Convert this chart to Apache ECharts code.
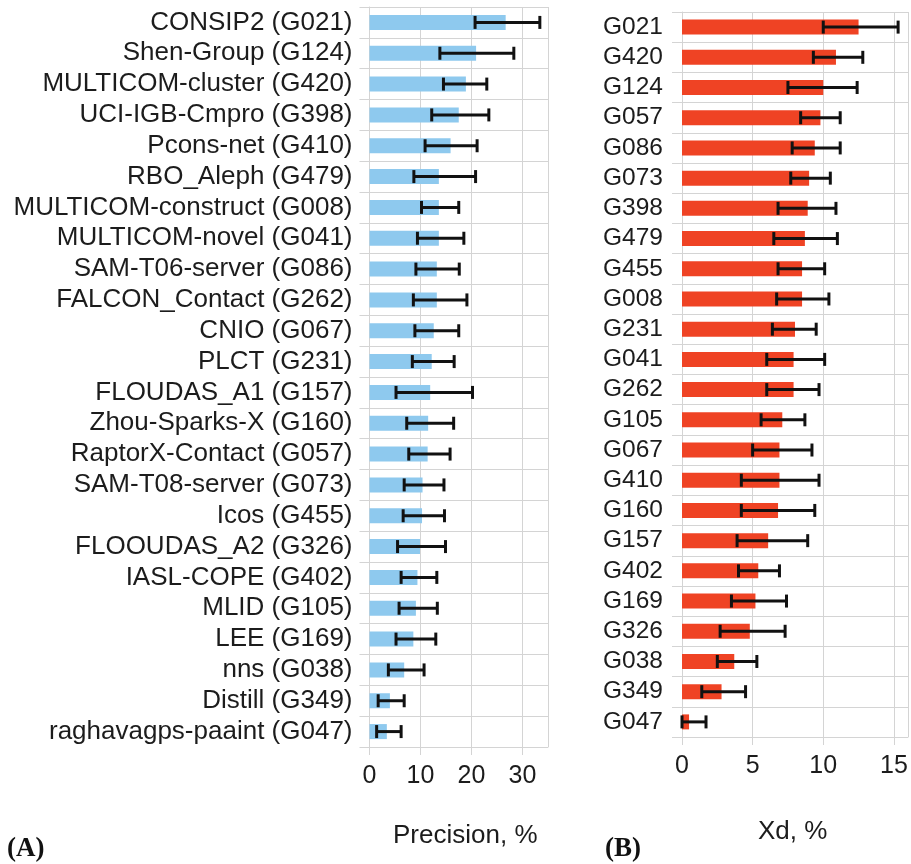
<!DOCTYPE html>
<html>
<head>
<meta charset="utf-8">
<script src="https://cdn.jsdelivr.net/npm/echarts@6/dist/echarts.min.js"></script>
<style>
html,body{margin:0;padding:0;background:#fff;}
#chart{width:911px;height:864px;}
</style>
</head>
<body>
<div id="chart"></div>
<script>
// ---- Panel A data (Precision, %) ----
const precisionCategories = [
  'CONSIP2 (G021)', 'Shen-Group (G124)', 'MULTICOM-cluster (G420)', 'UCI-IGB-Cmpro (G398)',
  'Pcons-net (G410)', 'RBO_Aleph (G479)', 'MULTICOM-construct (G008)', 'MULTICOM-novel (G041)',
  'SAM-T06-server (G086)', 'FALCON_Contact (G262)', 'CNIO (G067)', 'PLCT (G231)',
  'FLOUDAS_A1 (G157)', 'Zhou-Sparks-X (G160)', 'RaptorX-Contact (G057)', 'SAM-T08-server (G073)',
  'Icos (G455)', 'FLOOUDAS_A2 (G326)', 'IASL-COPE (G402)', 'MLID (G105)',
  'LEE (G169)', 'nns (G038)', 'Distill (G349)', 'raghavagps-paaint (G047)'
];
const precisionValues = [26.7, 20.9, 18.9, 17.5, 15.9, 13.6, 13.6, 13.6, 13.2, 13.2, 12.6, 12.2,
  11.9, 11.5, 11.4, 10.4, 10.3, 9.9, 9.4, 9.1, 8.6, 6.8, 4.0, 3.4];
const precisionLow = [20.7, 13.8, 14.5, 12.2, 10.9, 8.7, 10.2, 9.4, 9.1, 8.6, 8.9, 8.4,
  5.2, 7.3, 7.7, 6.8, 6.6, 5.5, 6.2, 5.8, 5.2, 3.7, 1.7, 1.4];
const precisionHigh = [33.4, 28.3, 23.0, 23.4, 21.1, 20.8, 17.5, 18.5, 17.6, 19.1, 17.5, 16.6,
  20.2, 16.5, 15.8, 14.6, 14.7, 14.9, 13.2, 13.3, 13.0, 10.7, 6.8, 6.2];

// ---- Panel B data (Xd, %) ----
const xdCategories = [
  'G021', 'G420', 'G124', 'G057', 'G086', 'G073', 'G398', 'G479', 'G455', 'G008', 'G231', 'G041',
  'G262', 'G105', 'G067', 'G410', 'G160', 'G157', 'G402', 'G169', 'G326', 'G038', 'G349', 'G047'
];
const xdValues = [12.5, 10.9, 10.0, 9.8, 9.4, 9.0, 8.9, 8.7, 8.5, 8.5, 8.0, 7.9,
  7.9, 7.1, 6.9, 6.9, 6.8, 6.1, 5.4, 5.2, 4.8, 3.7, 2.8, 0.5];
const xdLow = [10.0, 9.3, 7.5, 8.4, 7.8, 7.7, 6.8, 6.5, 6.8, 6.7, 6.4, 6.0,
  6.0, 5.6, 5.0, 4.2, 4.2, 3.9, 4.0, 3.5, 2.7, 2.5, 1.4, 0.0];
const xdHigh = [15.3, 12.8, 12.4, 11.2, 11.2, 10.5, 10.9, 11.0, 10.1, 10.4, 9.5, 10.1,
  9.7, 8.7, 9.2, 9.7, 9.4, 8.9, 6.9, 7.4, 7.3, 5.3, 4.5, 1.7];

// ---- Axis ticks ----
const precisionAxis = { min: 0, max: 35, interval: 10 };
const xdAxis = { min: 0, max: 16, interval: 5 };

const FONT = '"Liberation Sans", Arial, sans-serif';
const GRID_COLOR = '#d4d4d4';
const TEXT_COLOR = '#1c1c1c';

function errorData(low, high) {
  return low.map((lo, i) => [i, lo, high[i]]);
}

function errRenderItem(params, api) {
  const cat = api.value(0);
  const lo = api.value(1);
  const hi = api.value(2);
  const p1 = api.coord([lo, cat]);
  const p2 = api.coord([hi, cat]);
  const h = 6.5;
  const style = { stroke: '#111111', lineWidth: 3 };
  return {
    type: 'group',
    children: [
      { type: 'line', shape: { x1: p1[0], y1: p1[1], x2: p2[0], y2: p2[1] }, style: style },
      { type: 'line', shape: { x1: p1[0], y1: p1[1] - h, x2: p1[0], y2: p1[1] + h }, style: style },
      { type: 'line', shape: { x1: p2[0], y1: p2[1] - h, x2: p2[0], y2: p2[1] + h }, style: style }
    ]
  };
}

function valueAxis(gridIndex, cfg) {
  return {
    type: 'value', gridIndex: gridIndex,
    min: cfg.min, max: cfg.max, interval: cfg.interval,
    axisLine: { show: true, lineStyle: { color: GRID_COLOR, width: 1 } },
    axisTick: { show: true, length: 8, lineStyle: { color: GRID_COLOR } },
    splitLine: { show: true, lineStyle: { color: GRID_COLOR, width: 1 } },
    axisLabel: { showMaxLabel: false, fontFamily: FONT, fontSize: 25, color: TEXT_COLOR, margin: 17 }
  };
}

function categoryAxis(gridIndex, cats, fontSize, margin) {
  return {
    type: 'category', gridIndex: gridIndex, data: cats, inverse: true,
    axisLine: { show: true, lineStyle: { color: GRID_COLOR, width: 1 } },
    axisTick: { show: true, length: 10, alignWithLabel: false, lineStyle: { color: GRID_COLOR } },
    splitLine: { show: true, lineStyle: { color: GRID_COLOR, width: 1 } },
    axisLabel: { fontFamily: FONT, fontSize: fontSize, color: TEXT_COLOR, margin: margin, interval: 0 }
  };
}

const chart = echarts.init(document.getElementById('chart'), null, { renderer: 'canvas' });
chart.setOption({
  animation: false,
  backgroundColor: '#ffffff',
  grid: [
    { left: 369.5, top: 7, width: 178.5, height: 740, containLabel: false },
    { left: 682, top: 12, width: 226, height: 725, containLabel: false }
  ],
  xAxis: [valueAxis(0, precisionAxis), valueAxis(1, xdAxis)],
  yAxis: [categoryAxis(0, precisionCategories, 26, 17), categoryAxis(1, xdCategories, 24.5, 19)],
  series: [
    {
      type: 'bar', xAxisIndex: 0, yAxisIndex: 0, data: precisionValues,
      barWidth: 15, itemStyle: { color: '#8ec9ee' }, z: 2
    },
    {
      type: 'custom', xAxisIndex: 0, yAxisIndex: 0, renderItem: errRenderItem,
      data: errorData(precisionLow, precisionHigh), encode: { y: 0, x: [1, 2] }, z: 5
    },
    {
      type: 'bar', xAxisIndex: 1, yAxisIndex: 1, data: xdValues,
      barWidth: 15, itemStyle: { color: '#ef4324' }, z: 2
    },
    {
      type: 'custom', xAxisIndex: 1, yAxisIndex: 1, renderItem: errRenderItem,
      data: errorData(xdLow, xdHigh), encode: { y: 0, x: [1, 2] }, z: 5
    }
  ],
  graphic: [
    { type: 'text', left: 393, top: 823, style: { text: 'Precision, %', font: '26px ' + FONT, fill: TEXT_COLOR } },
    { type: 'text', left: 758, top: 819, style: { text: 'Xd, %', font: '26px ' + FONT, fill: TEXT_COLOR } },
    { type: 'text', left: 7, top: 836, style: { text: '(A)', font: 'bold 27px "Liberation Serif", "DejaVu Serif", serif', fill: '#111' } },
    { type: 'text', left: 605, top: 836, style: { text: '(B)', font: 'bold 27px "Liberation Serif", "DejaVu Serif", serif', fill: '#111' } }
  ]
});
</script>
</body>
</html>
